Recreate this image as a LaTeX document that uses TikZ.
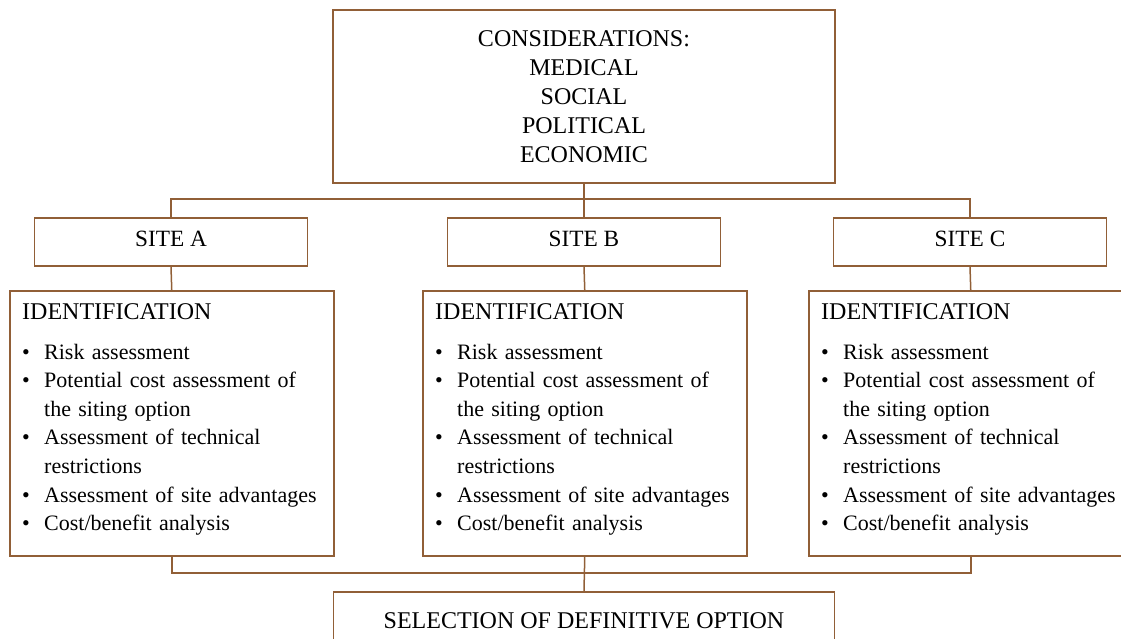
\documentclass[tikz,border=0pt]{standalone}
\usepackage{fontspec}
\setmainfont{Liberation Serif}
\definecolor{brn}{RGB}{145,95,55}
\newcommand{\capfnt}{\fontsize{24}{28.9}\selectfont}
\newcommand{\sitefnt}{\fontsize{23.3}{28}\selectfont}
\newcommand{\listfnt}{\fontsize{22}{28.6}\selectfont}
\newcommand{\bul}{\makebox[22pt][l]{\textbullet}}
\newcommand{\cont}{\hspace*{22pt}}
\newcommand{\idlist}{{\fontsize{24}{28.6}\selectfont IDENTIFICATION}\\[11.4pt]
\bul Risk assessment\\
\bul Potential cost assessment of\\
\cont the siting option\\
\bul Assessment of technical\\
\cont restrictions\\
\bul Assessment of site advantages\\
\bul Cost/benefit analysis}
\tikzset{
  box/.style={draw=brn, line width=1.5pt, inner sep=0pt},
  conn/.style={draw=brn, line width=1.5pt},
  sitebox/.style={box, minimum width=273pt, minimum height=48pt, font=\sitefnt, text height=16pt, text depth=7pt},
  idbox/.style={box, minimum width=324pt, minimum height=265pt, anchor=north west},
  listtext/.style={inner sep=0pt, anchor=north west, text width=305pt, align=left, font=\listfnt},
}
\begin{document}
\begin{tikzpicture}[x=1pt,y=-1pt]
\useasboundingbox (0,0) rectangle (1121,639);
\node[box, minimum width=502pt, minimum height=173pt, font=\capfnt, align=center] (top) at (584,96.5)
  {CONSIDERATIONS:\\MEDICAL\\SOCIAL\\POLITICAL\\ECONOMIC};
\node[sitebox] (siteA) at (171,242) {SITE A};
\node[sitebox] (siteB) at (584,242) {SITE B};
\node[sitebox] (siteC) at (970,242) {SITE C};
\node[idbox] (idA) at (9,290) {};
\node[idbox] (idB) at (422,290) {};
\node[idbox] (idC) at (808,290) {};
\node[listtext] (idAt) at ([xshift=13pt,yshift=-13.1pt]idA.north west) {\idlist};
\node[listtext] (idBt) at ([xshift=13pt,yshift=-13.1pt]idB.north west) {\idlist};
\node[listtext] (idCt) at ([xshift=13pt,yshift=-13.1pt]idC.north west) {\idlist};
\node[box, minimum width=501pt, minimum height=58pt, anchor=north, font=\capfnt] (sel) at (584,591)
  {SELECTION OF DEFINITIVE OPTION};
\coordinate (busT) at (584,199);
\coordinate (busB) at (584,573);
\draw[conn] (top.south) -- (siteB.north);
\draw[conn] (siteA.north) |- (busT) -| (siteC.north);
\draw[conn] (siteA.south) -- (idA.north);
\draw[conn] (siteB.south) -- (idB.north);
\draw[conn] (siteC.south) -- (idC.north);
\draw[conn] (idA.south) |- (busB) -| (idC.south);
\draw[conn] (idB.south) -- (sel.north);
\end{tikzpicture}
\end{document}
